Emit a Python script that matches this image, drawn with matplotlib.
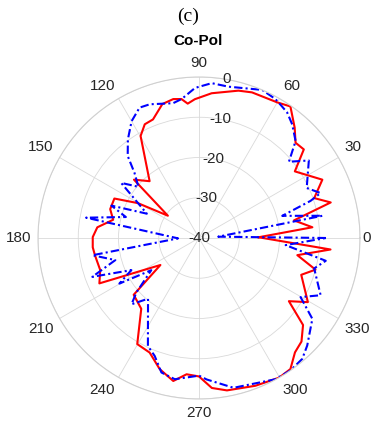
import numpy as np
import matplotlib
matplotlib.use("Agg")
import matplotlib.pyplot as plt

# red (solid) pattern: angle in degrees, gain in dB
red_theta = [0.7, 5.4, 10.5, 15.1, 19.1, 25.3, 34.8, 40.2, 44.6, 49.1, 55.2, 60, 70, 75, 85,
             91.7, 94.8, 97.2, 100.5, 105.3, 111.2, 115.5, 119.8, 131, 138.1, 144.4, 150.3,
             155, 162, 168, 174, 179.5, 185, 189.5, 198, 204.5, 215, 221, 230.8, 239.8,
             246.7, 253.3, 259.8, 264.8, 270, 274.9, 280.4, 290.9, 299.8, 304.9, 310,
             314.7, 320.1, 324.9, 329.5, 340.2, 344.8, 350.1, 355, 360.7]
red_db = [-25.2, -11.7, -16, -6.1, -9.7, -6.1, -11, -5.9, -6.3, -3.7, -0.2, -1.1, -1.5, -2.1, -3.9,
          -5.5, -6.5, -5.2, -4.9, -5.5, -8.4, -8.7, -10.8, -21.3, -18.3, -30.5, -22.5,
          -16.8, -16.8, -18.2, -14.6, -13.6, -13.5, -13.8, -14.2, -12.8, -28.3, -18.5, -17.3, -9.5,
          -9, -6, -3.9, -6, -5.6, -2.6, -1.5, -0.7, 0, -0.3, -2.9,
          -3.8, -6.3, -12.7, -8.6, -13, -10, -15.2, -7.2, -25.2]

# blue (dash-dot) pattern
blue_theta = [0, 3.9, 10.2, 14.9, 18.4, 20.3, 24.9, 35.2, 40.3, 45.1, 50.6, 54.9, 58, 61.2, 66.9,
              79, 85.3, 91.5, 97.1, 100.9, 110.2, 114.5, 120, 125.8, 131, 134.7, 139.8, 144.7,
              155, 159.7, 164, 169.8, 181, 189.2, 194.8, 200, 205.4, 209.8, 214, 221, 224.5,
              230, 244.7, 249.4, 254.4, 260.3, 270, 273.1, 283, 298.4, 304.6, 310.5, 315.2,
              324.5, 329.8, 334.8, 345.2, 349.8, 355.3, 360]
blue_db = [-8.5, -35.2, -8.8, -18.6, -10.8, -7.8, -10.5, -6.6, -10.7, -6, -3.5, -1.9, -1.3, -0.6, 0,
           -1.7, -1.4, -2.7, -5.2, -5.9, -4.6, -4.4, -6.5, -9.8, -13, -17.2, -20.3, -16.3,
           -25.7, -16.8, -21.1, -11.5, -34.8, -13.2, -18.5, -11.8, -21.4, -17.2, -25.7, -19.4, -16.5,
           -20.3, -10.3, -8.7, -5.3, -4.4, -5.8, -4.8, -1.8, -0.1, 0, -0.5, -2.1,
           -5.4, -10.8, -6.6, -10.4, -8, -18.4, -8.5]

r_ticks = [-40, -30, -20, -10, 0]
theta_ticks = list(range(0, 360, 30))

txt = "#262626"
plt.rcParams['font.family'] = ['Liberation Sans', 'DejaVu Sans']

fig = plt.figure(figsize=(3.75, 4.24), dpi=100)
ax = fig.add_axes([0.1013, 0.059, 0.8587, 0.7594], projection='polar')

ax.plot(np.deg2rad(red_theta), red_db, color='red', lw=1.5)
ax.plot(np.deg2rad(blue_theta), blue_db, color='blue', lw=1.5, dashes=(4, 1.5, 1, 1.5))

ax.set_ylim(-40, 0)
ax.set_yticks(r_ticks)
ax.set_yticklabels([])
ax.set_xticks(np.deg2rad(theta_ticks))
ax.set_xticklabels([])
ax.tick_params(length=0)
ax.grid(True, color='#d9d9d9', lw=0.6)
ax.spines['polar'].set_color('#d0d0d0')
ax.spines['polar'].set_linewidth(0.8)

# angle labels just outside the outer ring, aligned like MATLAB's polaraxes
for t in theta_ticks:
    c, s = np.cos(np.deg2rad(t)), np.sin(np.deg2rad(t))
    ha = 'left' if c > 0.1 else ('right' if c < -0.1 else 'center')
    va = 'bottom' if s > 0.1 else ('top' if s < -0.1 else 'center')
    rr = 0.5 if t == 0 else 1.7
    ax.text(np.deg2rad(t), rr, str(t), ha=ha, va=va, fontsize=11, color=txt, clip_on=False)

# radial labels along the 80 degree spoke
for r in r_ticks:
    ax.text(np.deg2rad(80), r, str(r), ha='center', va='center', fontsize=11, color=txt)

fig.text(0.501, 0.962, "(c)", family='Liberation Serif', fontsize=14, ha='center', va='center')
fig.text(0.528, 0.903, "Co-Pol", fontsize=11, fontweight='bold', ha='center', va='center')

fig.savefig("out.png", dpi=100)
